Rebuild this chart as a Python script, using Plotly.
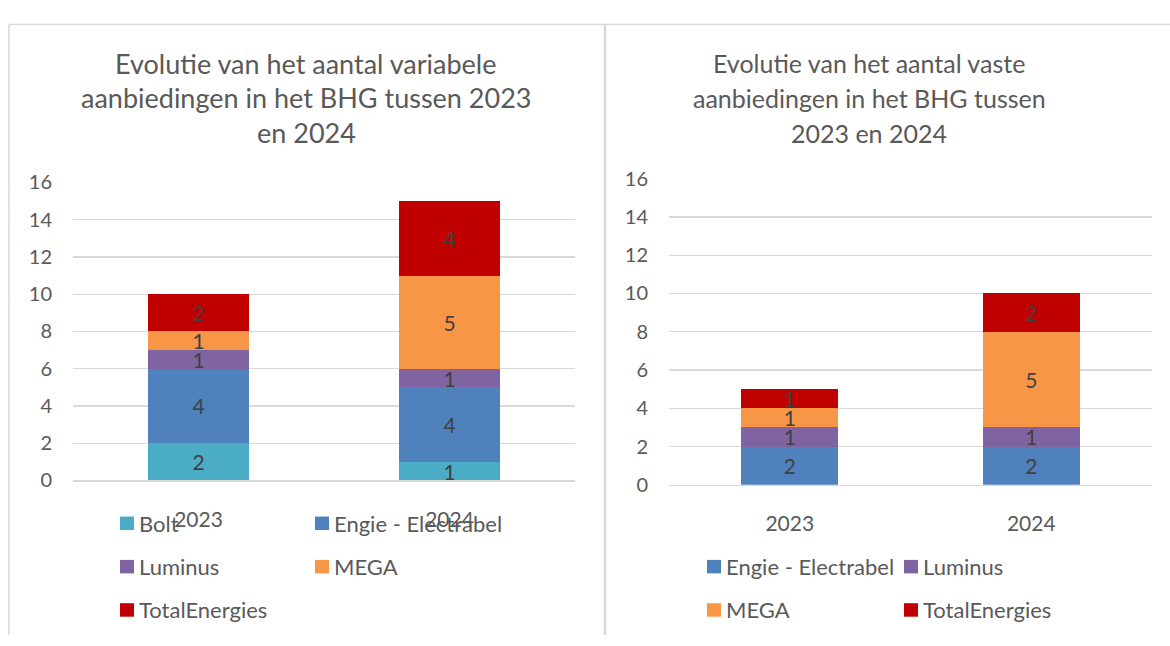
import plotly.graph_objects as go

W, H = 1170, 646

years = ["2023", "2024"]

# Left chart: variable offers
left_series = ["Bolt", "Engie - Electrabel", "Luminus", "MEGA", "TotalEnergies"]
left_bolt = [2, 1]
left_engie = [4, 4]
left_luminus = [1, 1]
left_mega = [1, 5]
left_total = [2, 4]

# Right chart: fixed offers
right_series = ["Engie - Electrabel", "Luminus", "MEGA", "TotalEnergies"]
right_engie = [2, 2]
right_luminus = [1, 1]
right_mega = [1, 5]
right_total = [1, 2]

y_ticks = [0, 2, 4, 6, 8, 10, 12, 14, 16]

left_title = ["Evolutie van het aantal variabele", "aanbiedingen in het BHG tussen 2023", "en 2024"]
right_title = ["Evolutie van het aantal vaste", "aanbiedingen in het BHG tussen", "2023 en 2024"]

colors = {
    "Bolt": "#4BACC6",
    "Engie - Electrabel": "#4F81BD",
    "Luminus": "#8064A2",
    "MEGA": "#F79646",
    "TotalEnergies": "#C00000",
}

FONT = "Lato"
TXT = "#595959"
LBL = "#404040"
GRID = "#D9D9D9"

def px_x(x):
    return x / W

def px_y(y):
    return 1 - y / H

fig = go.Figure()

left_values = [left_bolt, left_engie, left_luminus, left_mega, left_total]
for name, vals in zip(left_series, left_values):
    fig.add_trace(go.Bar(
        x=years, y=vals, name=name, marker=dict(color=colors[name], line=dict(width=0)),
        text=[str(v) for v in vals], textposition="inside", insidetextanchor="middle",
        constraintext="none", textangle=0,
        textfont=dict(family=FONT, size=21, color=LBL),
        xaxis="x", yaxis="y", showlegend=False, width=0.4,
    ))

right_values = [right_engie, right_luminus, right_mega, right_total]
for name, vals in zip(right_series, right_values):
    fig.add_trace(go.Bar(
        x=years, y=vals, name=name, marker=dict(color=colors[name], line=dict(width=0)),
        text=[str(v) for v in vals], textposition="inside", insidetextanchor="middle",
        constraintext="none", textangle=0,
        textfont=dict(family=FONT, size=21, color=LBL),
        xaxis="x2", yaxis="y2", showlegend=False, width=0.4,
    ))

axis_common_y = dict(
    range=[0, 16], tickvals=y_ticks, showgrid=True, gridcolor=GRID, gridwidth=1.3,
    zeroline=False, showline=False, ticks="", ticklabelstandoff=20,
    tickfont=dict(family=FONT, size=20, color=TXT), fixedrange=True,
)
axis_common_x = dict(
    type="category", range=[-0.5, 1.5], showgrid=False, showline=True, linecolor=GRID,
    linewidth=1.5, ticks="", ticklabelstandoff=20,
    tickfont=dict(family=FONT, size=21, color=TXT), fixedrange=True,
)

fig.update_layout(
    width=W, height=H, margin=dict(l=0, r=0, t=0, b=0),
    paper_bgcolor="white", plot_bgcolor="white",
    barmode="stack", showlegend=False,
    font=dict(family=FONT, color=TXT),
    xaxis=dict(domain=[px_x(73), px_x(575)], anchor="y", **axis_common_x),
    yaxis=dict(domain=[px_y(485.5), px_y(176)], anchor="x", **axis_common_y),
    xaxis2=dict(domain=[px_x(669), px_x(1152)], anchor="y2", **axis_common_x),
    yaxis2=dict(domain=[px_y(490), px_y(172)], anchor="x2", **axis_common_y),
)

annotations = []
# titles
for i, line in enumerate(left_title):
    annotations.append(dict(x=px_x(306), y=px_y(52 + 36 * i), xref="paper", yref="paper",
                            text=line, showarrow=False, xanchor="center", yanchor="middle",
                            font=dict(family=FONT, size=27, color=TXT)))
for i, line in enumerate(right_title):
    annotations.append(dict(x=px_x(869), y=px_y(52 + 36.5 * i), xref="paper", yref="paper",
                            text=line, showarrow=False, xanchor="center", yanchor="middle",
                            font=dict(family=FONT, size=25, color=TXT)))

shapes = []
# frame lines
shapes.append(dict(type="line", xref="paper", yref="paper", x0=px_x(9), x1=1, y0=px_y(12), y1=px_y(12),
                   line=dict(color=GRID, width=1.5)))
shapes.append(dict(type="line", xref="paper", yref="paper", x0=px_x(9), x1=px_x(9), y0=px_y(12), y1=0,
                   line=dict(color=GRID, width=1.5)))
shapes.append(dict(type="line", xref="paper", yref="paper", x0=px_x(605), x1=px_x(605), y0=px_y(12), y1=0,
                   line=dict(color=GRID, width=2.5)))

# manual legends (two columns)
def add_legend(names, col_x, row_y):
    for k, name in enumerate(names):
        cx = col_x[k % 2]
        cy = row_y[k // 2]
        shapes.append(dict(type="rect", xref="paper", yref="paper",
                           x0=px_x(cx), x1=px_x(cx + 14), y0=px_y(cy - 7), y1=px_y(cy + 7),
                           fillcolor=colors[name], line=dict(width=0)))
        annotations.append(dict(x=px_x(cx + 17), y=px_y(cy), xref="paper", yref="paper",
                                text=name, showarrow=False, xanchor="left", yanchor="middle",
                                font=dict(family=FONT, size=22, color=TXT)))

add_legend(left_series, [120, 315], [530, 575, 620])
add_legend(right_series, [707, 904], [575, 620])

fig.update_layout(annotations=annotations, shapes=shapes)

fig.write_html(
    "out.html",
    config={"displayModeBar": False, "staticPlot": True},
    post_script="document.body.style.margin='0';document.body.style.overflow='hidden';",
)
